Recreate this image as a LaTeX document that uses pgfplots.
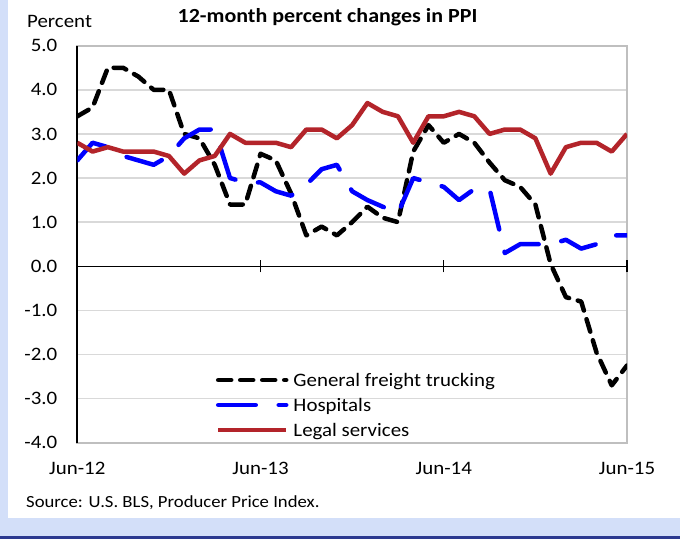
\documentclass[border=0pt]{standalone}
\usepackage{fontspec}
\setmainfont{Carlito}[FakeStretch=1.1]
\usepackage{pgfplots}
\usepackage{pgfplotstable}
\pgfplotsset{compat=1.18}

\definecolor{PanelBlue}{HTML}{D3DFF9}
\definecolor{Navy}{HTML}{2B3990}
\definecolor{Legal}{HTML}{B3242A}
\definecolor{Hosp}{HTML}{0000FF}
\definecolor{Grid}{HTML}{D9D9D9}
\definecolor{Frame}{HTML}{BFBFBF}

% month index 0 = Jun-12 ... 36 = Jun-15
\pgfplotstableread{
m  truck  hosp  legal
0   3.4   2.4   2.8
1   3.6   2.8   2.6
2   4.5   2.7   2.7
3   4.5   2.5   2.6
4   4.3   2.4   2.6
5   4.0   2.3   2.6
6   4.0   2.5   2.5
7   3.0   2.9   2.1
8   2.9   3.1   2.4
9   2.3   3.1   2.5
10  1.4   2.0   3.0
11  1.4   1.9   2.8
12  2.55  1.9   2.8
13  2.4   1.7   2.8
14  1.65  1.6   2.7
15  0.7   1.85  3.1
16  0.9   2.2   3.1
17  0.7   2.3   2.9
18  1.0   1.7   3.2
19  1.35  1.5   3.7
20  1.1   1.35  3.5
21  1.0   1.2   3.4
22  2.6   2.0   2.8
23  3.2   1.9   3.4
24  2.8   1.8   3.4
25  3.0   1.5   3.5
26  2.8   1.75  3.4
27  2.35  1.75  3.0
28  1.95  0.3   3.1
29  1.8   0.5   3.1
30  1.4   0.5   2.9
31  0.05  0.5   2.1
32  -0.7  0.6   2.7
33  -0.8  0.4   2.8
34  -1.95 0.5   2.8
35  -2.7  0.7   2.6
36  -2.25 0.7   3.0
}\ppi

\begin{document}
\begin{tikzpicture}
\useasboundingbox (0pt,0pt) rectangle (680pt,539pt);
\fill[PanelBlue] (0pt,0pt) rectangle (680pt,539pt);
\fill[white] (8pt,21.3pt) rectangle (680pt,539pt);
\fill[Navy] (0pt,0pt) rectangle (680pt,3pt);

\node[anchor=base west,font=\fontsize{19}{22}\selectfont,inner sep=0pt] at (27pt,511.7pt) {Percent};
\node[anchor=base,font=\fontsize{20}{24}\selectfont\bfseries,inner sep=0pt] at (327.5pt,516pt) {12-month percent changes in PPI};
\node[anchor=base west,font=\fontsize{17}{20}\selectfont,inner sep=0pt] at (26pt,31.5pt) {Source: U.S. BLS, Producer Price Index.};

\begin{axis}[
  at={(77.3pt,96.3pt)}, anchor=south west,
  scale only axis, width=549.7pt, height=397pt,
  xmin=0, xmax=36, ymin=-4, ymax=5,
  clip mode=individual,
  axis line style={draw=none},
  major tick length=0pt,
  xtick={0,12,24,36},
  xticklabels={Jun-12,Jun-13,Jun-14,Jun-15},
  ytick={-4,-3,-2,-1,0,1,2,3,4,5},
  yticklabels={-4.0,-3.0,-2.0,-1.0,0.0,1.0,2.0,3.0,4.0,5.0},
  xticklabel style={font=\fontsize{19}{22}\selectfont, anchor=north, inner sep=0pt, yshift=-19.3pt},
  yticklabel style={font=\fontsize{19}{22}\selectfont, anchor=east, inner sep=0pt, xshift=-19.8pt},
  ymajorgrids,
  grid style={Grid, line width=1.5pt},
  legend cell align=left,
  legend style={at={(0.2523,0.1793)}, anchor=north west, draw=none, fill=none,
    inner sep=0pt, outer sep=0pt, row sep=8pt, column sep=5pt,
    nodes={font=\fontsize{19}{22}\selectfont, inner sep=0pt, text height=15.2pt, text depth=1.8pt}},
  legend image code/.code={\draw[#1] (0pt,0pt) -- (68pt,0pt);},
]
\draw[Frame, line width=1.8pt] (rel axis cs:0,0) rectangle (rel axis cs:1,1);
\draw[black, line width=1.3pt] (axis cs:0,0) -- (axis cs:36,0);
\draw[black, line width=1.3pt] (axis cs:12,0) ++(0pt,-6pt) -- ++(0pt,12pt);
\draw[black, line width=1.3pt] (axis cs:24,0) ++(0pt,-6pt) -- ++(0pt,12pt);
\draw[black, line width=1.3pt] (axis cs:36,0) ++(0pt,-6pt) -- ++(0pt,12pt);
\draw[black, line width=1.8pt] (rel axis cs:0,0) -- (rel axis cs:0,1);

\addplot[black, line width=4.5pt, line cap=round, line join=round, dash pattern=on 13pt off 9pt] table[x=m, y=truck] {\ppi};
\addlegendentry{General freight trucking}
\addplot[Hosp, line width=4.5pt, line cap=round, line join=round, dash pattern=on 37.5pt off 23pt] table[x=m, y=hosp] {\ppi};
\addlegendentry{Hospitals}
\addplot[Legal, line width=4.5pt, line join=round] table[x=m, y=legal] {\ppi};
\addlegendentry{Legal services}
\end{axis}
\end{tikzpicture}
\end{document}
